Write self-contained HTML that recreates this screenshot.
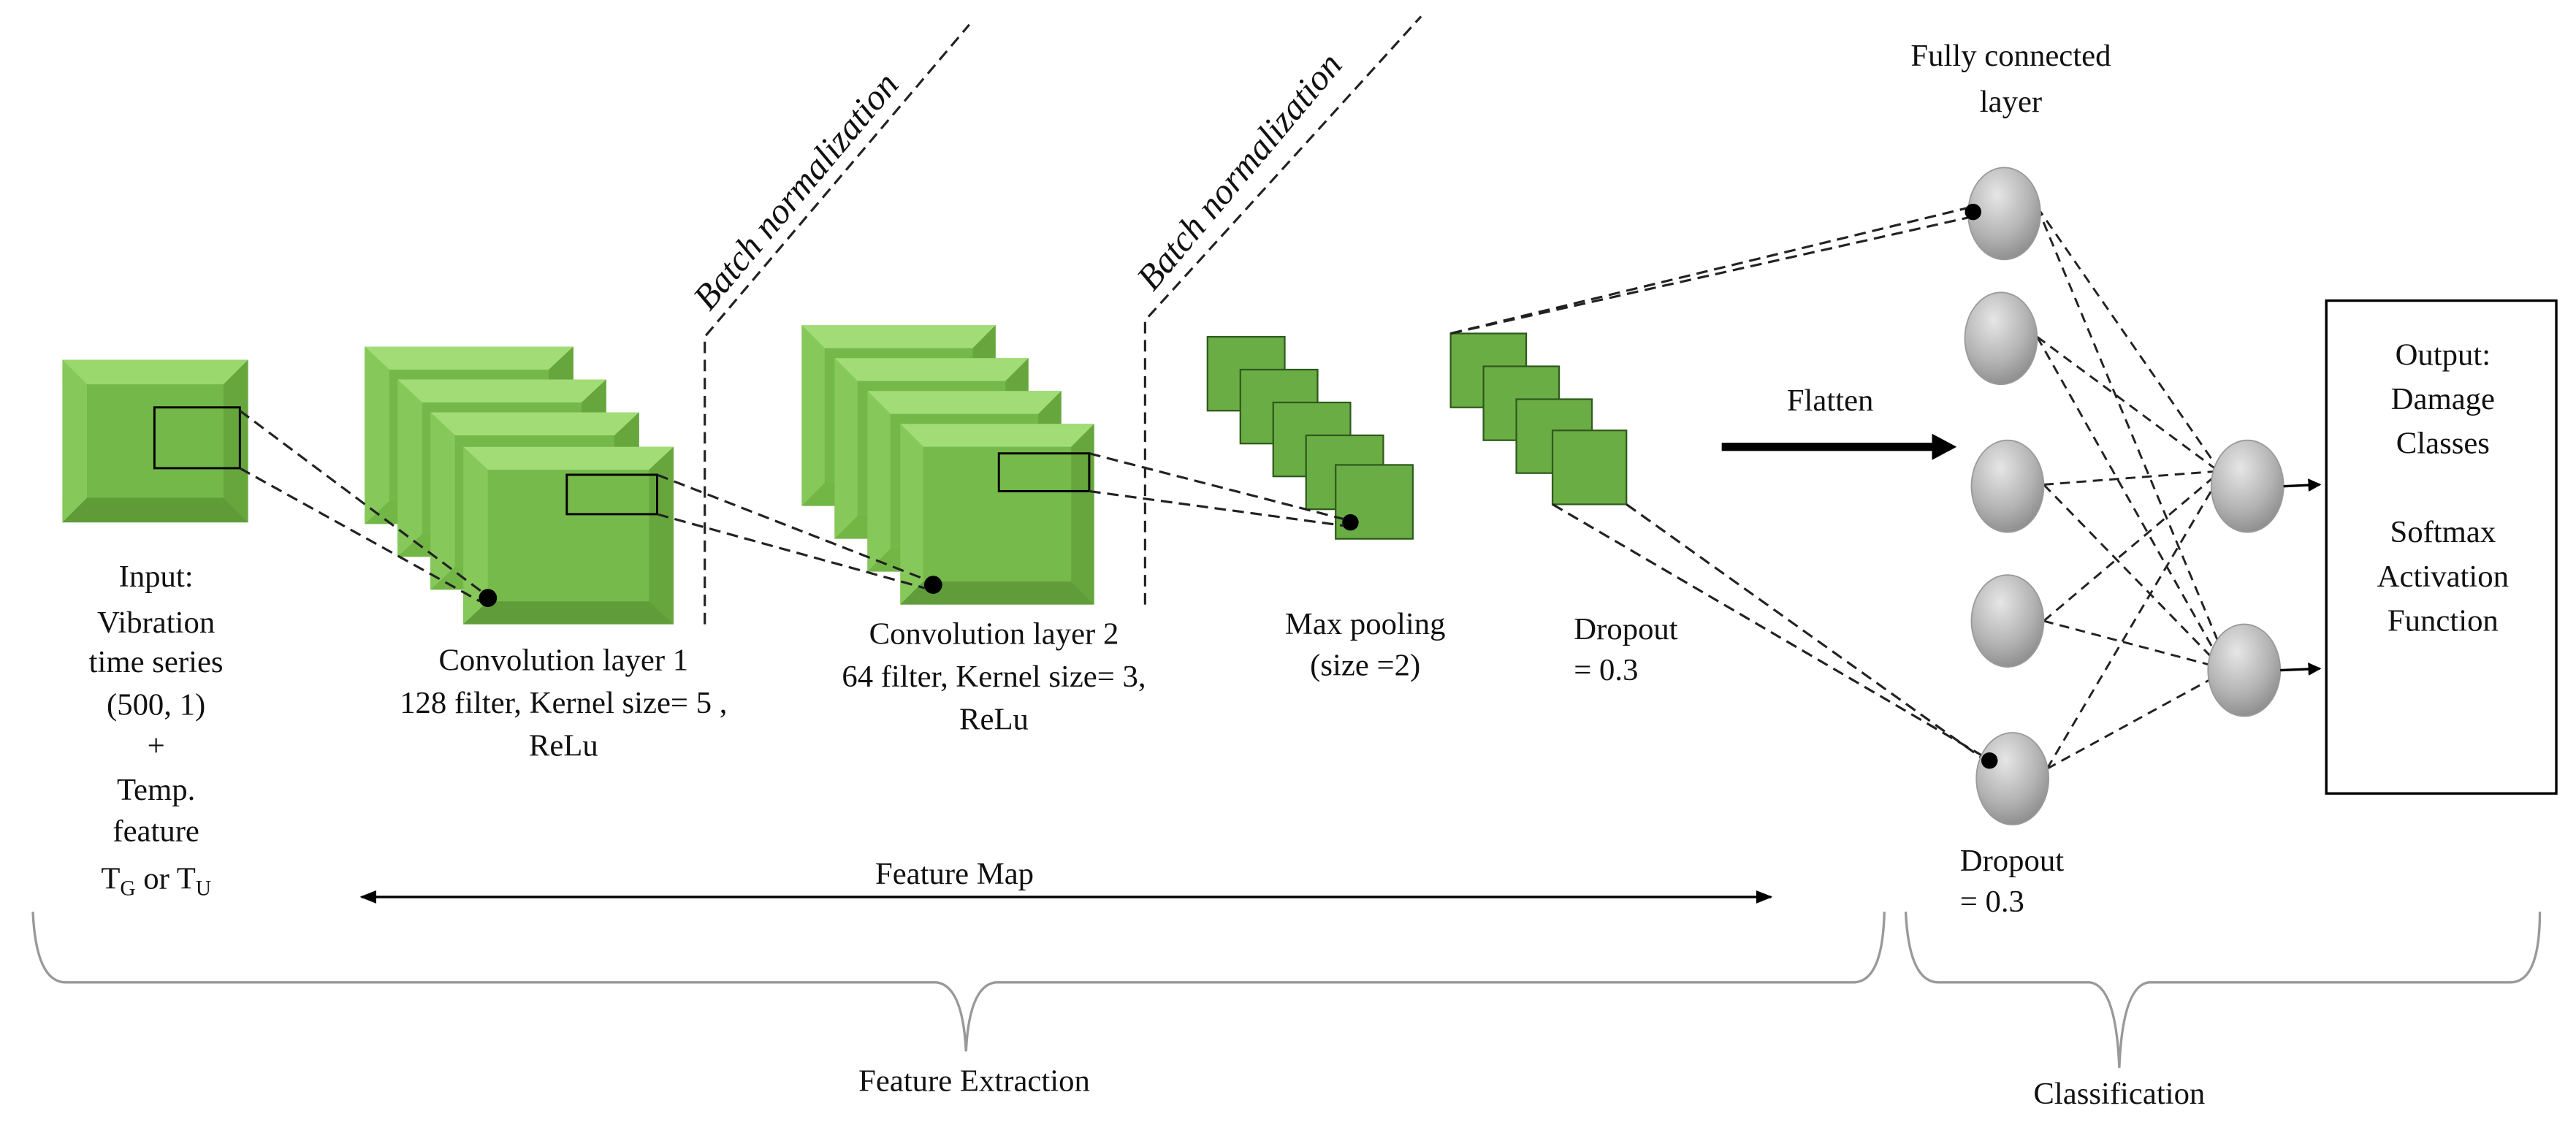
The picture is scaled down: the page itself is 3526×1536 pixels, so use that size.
<!DOCTYPE html>
<html><head><meta charset="utf-8"><style>
html,body{margin:0;padding:0;background:#fff;}
svg{display:block;}
text{font-family:"Liberation Serif",serif;fill:#111;}
</style></head><body>
<svg width="3526" height="1536" viewBox="0 0 1568 683" preserveAspectRatio="none" xmlns="http://www.w3.org/2000/svg">
<defs>
<radialGradient id="ball" cx="0.4" cy="0.3" r="0.75"><stop offset="0" stop-color="#e6e6e6"/><stop offset="0.6" stop-color="#b4b4b4"/><stop offset="1" stop-color="#8a8a8a"/></radialGradient>
<marker id="ah" markerWidth="8" markerHeight="8" refX="7" refY="4" orient="auto" markerUnits="userSpaceOnUse"><path d="M0,0 L8,4 L0,8 Z" fill="#000"/></marker>
<marker id="ahs" markerWidth="10" markerHeight="10" refX="9" refY="5" orient="auto-start-reverse" markerUnits="userSpaceOnUse"><path d="M0,1 L10,5 L0,9 Z" fill="#000"/></marker>
</defs>

<g>
<rect x="38" y="219" width="113" height="99" fill="#72b646"/>
<polygon points="38,219 151,219 136,234 53,234" fill="#9ad86e"/>
<polygon points="38,219 53,234 53,303 38,318" fill="#86c85a"/>
<polygon points="151,219 136,234 136,303 151,318" fill="#66a63c"/>
<polygon points="38,318 53,303 136,303 151,318" fill="#5f9c38"/>
<rect x="53" y="234" width="83" height="69" fill="#74b84a"/>
<rect x="94" y="248" width="52" height="37" fill="none" stroke="#000" stroke-width="1.3"/>
</g>

<g>
<g transform="translate(222,211)"><rect width="127" height="108" fill="#72b646"/><polygon points="0,0 127,0 112,14 15,14" fill="#a2dc76"/><polygon points="0,0 15,14 15,94 0,108" fill="#86c85a"/><polygon points="127,0 112,14 112,94 127,108" fill="#66a63c"/><rect x="15" y="14" width="97" height="80" fill="#74b84a"/></g>
<g transform="translate(242,231)"><rect width="127" height="108" fill="#72b646"/><polygon points="0,0 127,0 112,14 15,14" fill="#a2dc76"/><polygon points="0,0 15,14 15,94 0,108" fill="#86c85a"/><polygon points="127,0 112,14 112,94 127,108" fill="#66a63c"/><rect x="15" y="14" width="97" height="80" fill="#74b84a"/></g>
<g transform="translate(262,251)"><rect width="127" height="108" fill="#72b646"/><polygon points="0,0 127,0 112,14 15,14" fill="#a2dc76"/><polygon points="0,0 15,14 15,94 0,108" fill="#86c85a"/><polygon points="127,0 112,14 112,94 127,108" fill="#66a63c"/><rect x="15" y="14" width="97" height="80" fill="#74b84a"/></g>
<g transform="translate(282,272)"><rect width="128" height="108" fill="#72b646"/><polygon points="0,0 128,0 113,14 15,14" fill="#a2dc76"/><polygon points="0,0 15,14 15,94 0,108" fill="#86c85a"/><polygon points="128,0 113,14 113,94 128,108" fill="#66a63c"/><polygon points="0,108 15,94 113,94 128,108" fill="#609d3a"/><rect x="15" y="14" width="98" height="80" fill="#76ba4c"/></g>
<rect x="345" y="289" width="55" height="24" fill="none" stroke="#000" stroke-width="1.3"/>
<circle cx="297" cy="364" r="5.5" fill="#000"/>
</g>

<g>
<g transform="translate(488,198)"><rect width="118" height="110" fill="#72b646"/><polygon points="0,0 118,0 104,14 14,14" fill="#a2dc76"/><polygon points="0,0 14,14 14,96 0,110" fill="#86c85a"/><polygon points="118,0 104,14 104,96 118,110" fill="#66a63c"/><rect x="14" y="14" width="90" height="82" fill="#74b84a"/></g>
<g transform="translate(508,218)"><rect width="118" height="110" fill="#72b646"/><polygon points="0,0 118,0 104,14 14,14" fill="#a2dc76"/><polygon points="0,0 14,14 14,96 0,110" fill="#86c85a"/><polygon points="118,0 104,14 104,96 118,110" fill="#66a63c"/><rect x="14" y="14" width="90" height="82" fill="#74b84a"/></g>
<g transform="translate(528,238)"><rect width="118" height="110" fill="#72b646"/><polygon points="0,0 118,0 104,14 14,14" fill="#a2dc76"/><polygon points="0,0 14,14 14,96 0,110" fill="#86c85a"/><polygon points="118,0 104,14 104,96 118,110" fill="#66a63c"/><rect x="14" y="14" width="90" height="82" fill="#74b84a"/></g>
<g transform="translate(548,258)"><rect width="118" height="110" fill="#72b646"/><polygon points="0,0 118,0 104,14 14,14" fill="#a2dc76"/><polygon points="0,0 14,14 14,96 0,110" fill="#86c85a"/><polygon points="118,0 104,14 104,96 118,110" fill="#66a63c"/><polygon points="0,110 14,96 104,96 118,110" fill="#609d3a"/><rect x="14" y="14" width="90" height="82" fill="#76ba4c"/></g>
<rect x="608" y="276" width="55" height="23" fill="none" stroke="#000" stroke-width="1.3"/>
<circle cx="568" cy="356" r="5.5" fill="#000"/>
</g>

<g fill="#6aad45" stroke="#2f5a1c" stroke-width="1">
<rect x="735" y="205" width="47" height="45"/>
<rect x="755" y="225" width="47" height="45"/>
<rect x="775" y="245" width="47" height="45"/>
<rect x="795" y="265" width="47" height="45"/>
<rect x="813" y="283" width="47" height="45"/>
</g>
<circle cx="822" cy="318" r="5" fill="#000"/>

<g fill="#6aad45" stroke="#2f5a1c" stroke-width="1">
<rect x="883" y="203" width="46" height="45"/>
<rect x="903" y="223" width="46" height="45"/>
<rect x="923" y="243" width="46" height="45"/>
<rect x="945" y="262" width="45" height="45"/>
</g>

<g stroke="#222" stroke-width="1.4" stroke-dasharray="7,4" fill="none">
<line x1="146" y1="250" x2="293" y2="360"/>
<line x1="146" y1="285" x2="292" y2="366"/>
<line x1="400" y1="289" x2="564" y2="353"/>
<line x1="400" y1="313" x2="563" y2="358"/>
<line x1="663" y1="276" x2="818" y2="316"/>
<line x1="663" y1="299" x2="818" y2="320"/>
<line x1="883" y1="203" x2="1200" y2="126"/>
<line x1="883" y1="203" x2="1200" y2="132"/>
<line x1="945" y1="307" x2="1210" y2="462"/>
<line x1="990" y1="307" x2="1210" y2="464"/>
<polyline points="429,380 429,205 590,15"/>
<polyline points="697,368 697,195 865,10"/>
</g>

<g stroke="#222" stroke-width="1.3" stroke-dasharray="6,4" fill="none">
<line x1="1240" y1="126" x2="1348" y2="282"/>
<line x1="1240" y1="126" x2="1352" y2="395"/>
<line x1="1240" y1="205" x2="1348" y2="285"/>
<line x1="1240" y1="205" x2="1350" y2="400"/>
<line x1="1244" y1="295" x2="1348" y2="287"/>
<line x1="1244" y1="295" x2="1350" y2="404"/>
<line x1="1244" y1="378" x2="1348" y2="290"/>
<line x1="1244" y1="378" x2="1350" y2="406"/>
<line x1="1246" y1="468" x2="1350" y2="292"/>
<line x1="1246" y1="468" x2="1352" y2="410"/>
</g>

<g stroke="#9a9a9a" stroke-width="0.8">
<ellipse cx="1220" cy="130" rx="22" ry="28" fill="url(#ball)"/>
<ellipse cx="1218" cy="206" rx="22" ry="28" fill="url(#ball)"/>
<ellipse cx="1222" cy="296" rx="22" ry="28" fill="url(#ball)"/>
<ellipse cx="1222" cy="378" rx="22" ry="28" fill="url(#ball)"/>
<ellipse cx="1225" cy="474" rx="22" ry="28" fill="url(#ball)"/>
<ellipse cx="1368" cy="296" rx="22" ry="28" fill="url(#ball)"/>
<ellipse cx="1366" cy="408" rx="22" ry="28" fill="url(#ball)"/>
</g>
<circle cx="1201" cy="129" r="5" fill="#000"/>
<circle cx="1211" cy="463" r="5" fill="#000"/>

<line x1="1390" y1="296" x2="1412" y2="295" stroke="#000" stroke-width="1.5" marker-end="url(#ah)"/>
<line x1="1388" y1="408" x2="1412" y2="407" stroke="#000" stroke-width="1.5" marker-end="url(#ah)"/>

<rect x="1416" y="183" width="140" height="300" fill="none" stroke="#000" stroke-width="1.5"/>
<g font-size="19" text-anchor="middle">
<text x="1487" y="222">Output:</text>
<text x="1487" y="249">Damage</text>
<text x="1487" y="276">Classes</text>
<text x="1487" y="330">Softmax</text>
<text x="1487" y="357">Activation</text>
<text x="1487" y="384">Function</text>
</g>

<line x1="1048" y1="272" x2="1178" y2="272" stroke="#000" stroke-width="5"/>
<polygon points="1176,264 1191,272 1176,280" fill="#000"/>
<text x="1114" y="250" font-size="19" text-anchor="middle">Flatten</text>

<g font-size="19" text-anchor="middle">
<text x="1224" y="40">Fully connected</text>
<text x="1224" y="68">layer</text>
<text x="95" y="357">Input:</text>
<text x="95" y="385">Vibration</text>
<text x="95" y="409">time series</text>
<text x="95" y="435">(500, 1)</text>
<text x="95" y="460">+</text>
<text x="95" y="487">Temp.</text>
<text x="95" y="512">feature</text>
<text x="95" y="541">T<tspan font-size="13" dy="4">G</tspan><tspan dy="-4"> or T</tspan><tspan font-size="13" dy="4">U</tspan></text>
<text x="343" y="408">Convolution layer  1</text>
<text x="343" y="434">128 filter, Kernel size= 5 ,</text>
<text x="343" y="460">ReLu</text>
<text x="605" y="392">Convolution layer 2</text>
<text x="605" y="418">64 filter, Kernel size= 3,</text>
<text x="605" y="444">ReLu</text>
<text x="831" y="386">Max pooling</text>
<text x="831" y="411">(size =2)</text>
<text x="581" y="538">Feature Map</text>
<text x="593" y="664">Feature Extraction</text>
<text x="1290" y="672">Classification</text>
</g>
<g font-size="19">
<text x="958" y="389">Dropout</text>
<text x="958" y="414">=  0.3</text>
<text x="1193" y="530">Dropout</text>
<text x="1193" y="555">=  0.3</text>
</g>
<text font-size="22" font-style="italic" transform="translate(432,190) rotate(-50)">Batch normalization</text>
<text font-size="22" font-style="italic" transform="translate(702,178) rotate(-50)">Batch normalization</text>

<line x1="220" y1="546" x2="1078" y2="546" stroke="#000" stroke-width="1.5" marker-start="url(#ahs)" marker-end="url(#ahs)"/>

<g fill="none" stroke="#999" stroke-width="1.5">
<path d="M20,555 Q22,598 40,598 L570,598 Q586,600 588,640 Q590,600 606,598 L1128,598 Q1146,598 1147,555"/>
<path d="M1160,555 Q1162,598 1180,598 L1272,598 Q1288,600 1290,650 Q1292,600 1308,598 L1528,598 Q1546,598 1546,555"/>
</g>
</svg>
</body></html>
